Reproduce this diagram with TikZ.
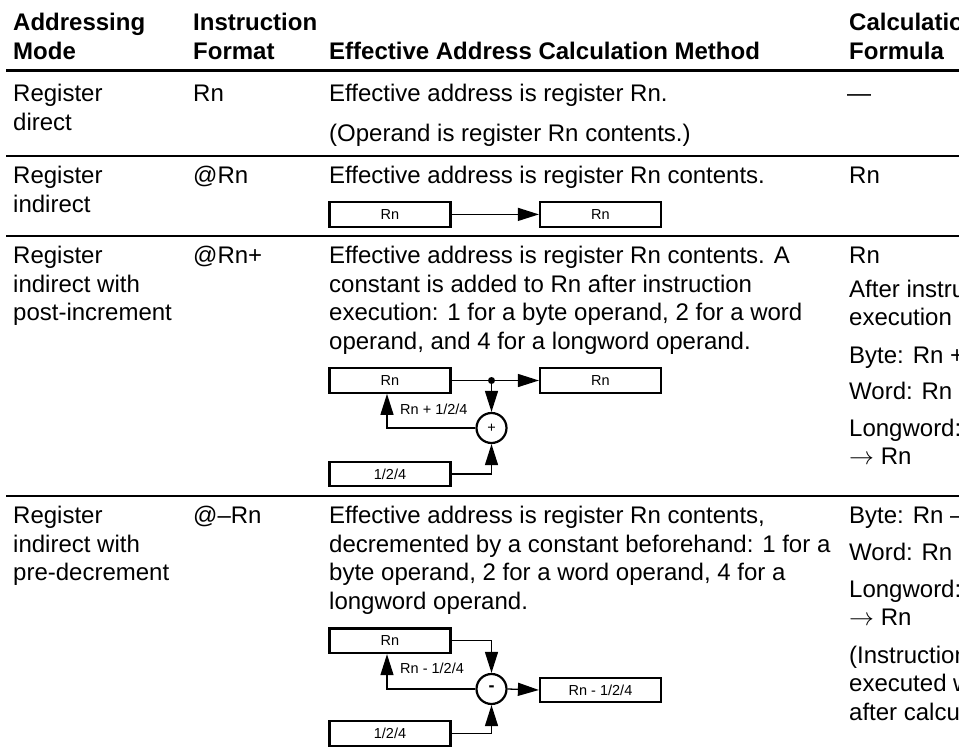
\documentclass[tikz,border=0pt]{standalone}
\usepackage{fontspec}
\setmainfont{Liberation Sans}
\usetikzlibrary{arrows.meta}

\tikzset{
  txt/.style={anchor=base west, inner sep=0pt, align=left,
    font=\fontsize{24}{28.6}\selectfont},
  head/.style={txt, font=\fontsize{24}{28.6}\selectfont\bfseries},
  reg/.style={draw, line width=2.2pt, minimum width=121pt, minimum height=24.5pt,
    inner sep=0pt, font=\fontsize{14.5}{16}\selectfont},
  adder/.style={draw, circle, line width=2.2pt, minimum size=30pt, inner sep=0pt,
    font=\fontsize{14.5}{16}\selectfont},
  lbl/.style={anchor=base west, inner sep=0pt, font=\fontsize{14.5}{16}\selectfont},
  wire/.style={line width=1.3pt},
  flow/.style={wire, -{Triangle[length=21pt,width=13pt]}},
  rule/.style={line width=2pt}
}

\begin{document}
\begin{tikzpicture}[x=1pt,y=-1pt]
  \useasboundingbox (0,0) rectangle (959,752);

  % column heads (multi-line nodes sit on their last baseline)
  \node[head] (hmode) at (13,59.6) {Addressing\\Mode};
  \node[head] (hfmt) at (193,59.6) {Instruction\\Format};
  \node[head] (hcalc) at (329,59.6) {Effective Address Calculation Method};
  \node[head] (hform) at (849,59.6) {Calculation\\Formula};

  \draw[line width=3pt] (6,71) -- (959,71);
  \draw[rule] (6,156) -- (959,156);
  \draw[rule] (6,235.7) -- (959,235.7);
  \draw[rule] (6,495.7) -- (959,495.7);

  % register direct
  \node[txt] (mode1) at (13,130.1) {Register\\direct};
  \node[txt] (fmt1) at (193,101.5) {Rn};
  \node[txt] (desc1) at (329,101.5) {Effective address is register Rn.};
  \node[txt] (note1) at (329,141.7) {(Operand is register Rn contents.)};
  \node[txt] (form1) at (847,101.5) {—};

  % register indirect
  \node[txt] (mode2) at (13,212.1) {Register\\indirect};
  \node[txt] (fmt2) at (193,183.5) {@Rn};
  \node[txt] (desc2) at (329,183.5) {Effective address is register Rn contents.};
  \node[txt] (form2) at (849,183.5) {Rn};
  \node[reg] (rn2) at (390,214.4) {Rn};
  \node[reg] (ea2) at (600.5,214.4) {Rn};
  \draw[flow] (rn2.east) -- (ea2.west);

  % register indirect with post-increment
  \node[txt] (mode3) at (13,320.7) {Register\\indirect with\\post-increment};
  \node[txt] (fmt3) at (193,263.5) {@Rn+};
  \node[txt] (desc3) at (329,349.3) {Effective address is register Rn contents. A\\
    constant is added to Rn after instruction\\
    execution: 1 for a byte operand, 2 for a word\\
    operand, and 4 for a longword operand.};
  \node[txt] (form3a) at (849,263.5) {Rn};
  \node[txt] (form3b) at (849,325.6) {After instruction\\execution};
  \node[txt] (form3c) at (849,363) {Byte: Rn +};
  \node[txt] (form3d) at (849,399.6) {Word: Rn +};
  \node[txt] (form3e) at (849,464.8) {Longword: Rn\\$\rightarrow$ Rn};

  \node[reg] (rn3) at (390,380.5) {Rn};
  \node[reg] (ea3) at (600.5,380.5) {Rn};
  \node[adder] (add3) at (491.5,428) {+};
  \node[reg] (k3) at (390,474) {1/2/4};
  \coordinate (tap3) at (add3 |- rn3.east);
  \draw[wire] (rn3.east) -- (tap3);
  \draw[flow] (tap3) -- (ea3.west);
  \draw[flow] (tap3) -- (add3.north);
  \fill (tap3) circle (3.5pt);
  \draw[flow] (add3.west) -| ([xshift=-3pt]rn3.south);
  \draw[flow] (k3.east) -| (add3.south);
  \node[lbl] (inc3) at (400,414.5) {Rn + 1/2/4};

  % register indirect with pre-decrement
  \node[txt] (mode4) at (13,580.7) {Register\\indirect with\\pre-decrement};
  \node[txt] (fmt4) at (193,523.5) {@--Rn};
  \node[txt] (desc4) at (329,609.3) {Effective address is register Rn contents,\\
    decremented by a constant beforehand: 1 for a\\
    byte operand, 2 for a word operand, 4 for a\\
    longword operand.};
  \node[txt] (form4a) at (849,523.5) {Byte: Rn --};
  \node[txt] (form4b) at (849,560) {Word: Rn --};
  \node[txt] (form4c) at (849,625.6) {Longword: Rn\\$\rightarrow$ Rn};
  \node[txt] (form4d) at (849,720.2) {(Instruction\\executed with\\after calculation};

  \node[reg] (rn4) at (390,640.8) {Rn};
  \node[adder] (sub4) at (491.5,689) {\bfseries\fontsize{18}{18}\selectfont -};
  \node[reg] (ea4) at (600.5,690) {Rn - 1/2/4};
  \node[reg] (k4) at (390,733.5) {1/2/4};
  \draw[flow] (rn4.east) -| (sub4.north);
  \draw[flow] (sub4.west) -| ([xshift=-3pt]rn4.south);
  \draw[flow] (sub4.east) -- (ea4.west);
  \draw[flow] (k4.east) -| (sub4.south);
  \node[lbl] (dec4) at (400,673) {Rn - 1/2/4};
\end{tikzpicture}
\end{document}
